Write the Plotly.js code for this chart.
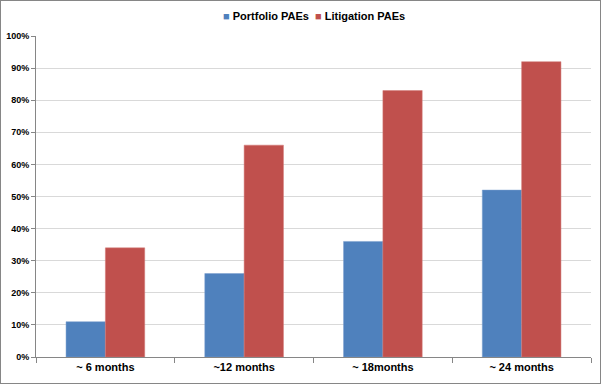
<!DOCTYPE html>
<html><head><meta charset="utf-8">
<script src="https://cdn.plot.ly/plotly-3.0.1.min.js"></script>
<style>
html,body{margin:0;padding:0;background:#fff;}
#c{width:601px;height:384px;box-sizing:border-box;border:1px solid #868686;}
</style></head>
<body><div id="c"></div>
<script>
const categories = ["~ 6 months", "~12 months", "~ 18months", "~ 24 months"];
const portfolioPAEs = [0.11, 0.26, 0.36, 0.52];
const litigationPAEs = [0.34, 0.66, 0.83, 0.92];
const seriesNames = ["Portfolio PAEs", "Litigation PAEs"];
const seriesColors = ["#4F81BD", "#C0504D"];
const yTickVals = [0,0.1,0.2,0.3,0.4,0.5,0.6,0.7,0.8,0.9,1.0];
const yTickText = ["0%","10%","20%","30%","40%","50%","60%","70%","80%","90%","100%"];

const font = "Liberation Sans, Arial, sans-serif";
const data = [
  {type:"bar", name:seriesNames[0], x:categories, y:portfolioPAEs,
   marker:{color:seriesColors[0], line:{color:"#7A9FCF", width:0.5}}},
  {type:"bar", name:seriesNames[1], x:categories, y:litigationPAEs,
   marker:{color:seriesColors[1], line:{color:"#D27B79", width:0.5}}}
];
const legendText = seriesNames.map((n,i)=>`<span style="color:${seriesColors[i]}">■</span> ${n}`).join("  ");
const layout = {
  width:599, height:382,
  margin:{l:35, r:9, t:35, b:26, pad:0},
  paper_bgcolor:"#fff", plot_bgcolor:"#fff",
  bargap:0.433, bargroupgap:0,
  showlegend:false,
  annotations:[{xref:"paper", yref:"paper", x:0.5, y:1, yshift:20, xanchor:"center", yanchor:"middle",
    showarrow:false, text:legendText, font:{family:font, size:11, color:"#000", weight:"bold"}}],
  xaxis:{type:"category", showline:true, linecolor:"#868686", linewidth:1,
         ticks:"outside", tickson:"boundaries", ticklen:5, tickcolor:"#868686",
         tickfont:{family:font, size:11, color:"#000", weight:"bold"}, showgrid:false},
  yaxis:{range:[0,1], tickvals:yTickVals, ticktext:yTickText, showline:true, linecolor:"#868686",
         gridcolor:"#D9D9D9", gridwidth:1, ticks:"outside", ticklen:4, tickcolor:"#868686",
         tickfont:{family:font, size:9, color:"#000", weight:"bold"}, zeroline:false, fixedrange:true}
};
Plotly.newPlot("c", data, layout, {displayModeBar:false, staticPlot:true});
</script></body></html>
